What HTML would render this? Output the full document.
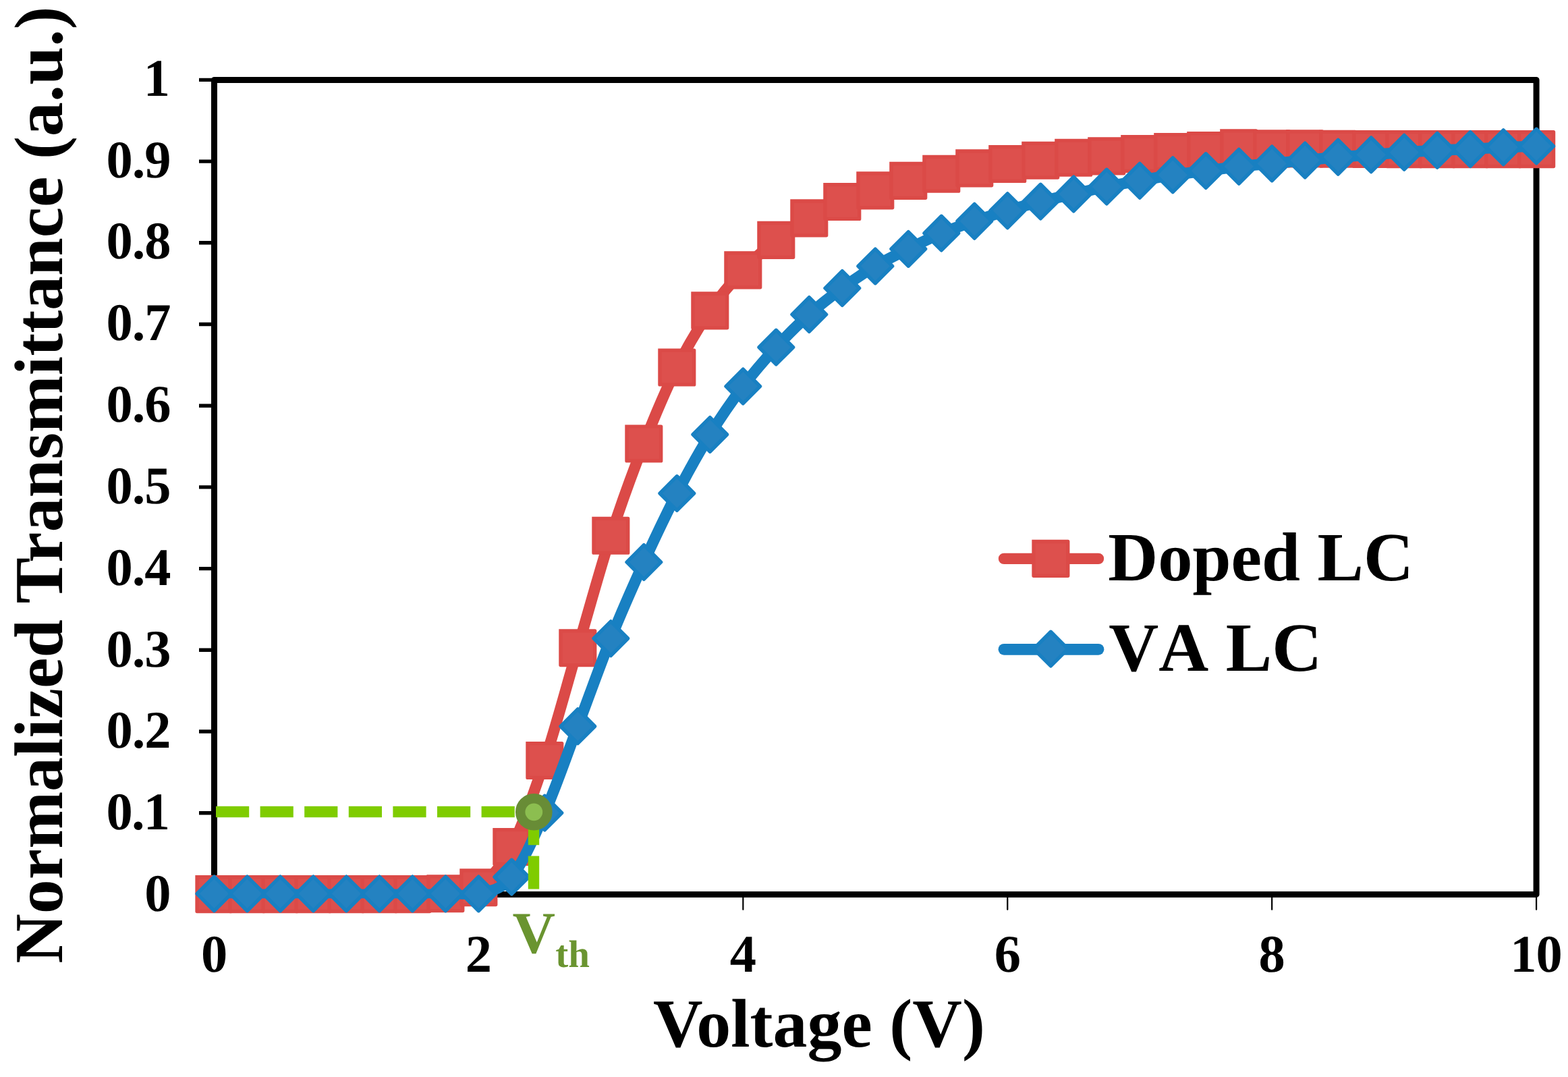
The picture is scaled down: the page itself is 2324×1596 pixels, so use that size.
<!DOCTYPE html>
<html lang="en"><head><meta charset="utf-8"><title>Normalized Transmittance vs Voltage</title>
<style>
html,body{margin:0;padding:0;background:#fff;}
body{width:2324px;height:1596px;overflow:hidden;}
svg{display:block;}
text{font-family:"Liberation Serif","DejaVu Serif",serif;font-weight:bold;text-rendering:geometricPrecision;}
.tk{font-size:78.5px;}
.tt{font-size:102px;}
.nk{font-kerning:none;}
</style></head><body>
<svg width="2324" height="1596" viewBox="0 0 2324 1596">
<rect width="2324" height="1596" fill="#fff"/>
<g stroke="#000" fill="none">
<rect x="317.5" y="118.4" width="1959.6" height="1207" stroke-width="9" stroke-linejoin="round"/>
<path d="M295 1325.4H317.5M295 1204.7H317.5M295 1084H317.5M295 963.3H317.5M295 842.6H317.5M295 721.9H317.5M295 601.2H317.5M295 480.5H317.5M295 359.8H317.5M295 239.1H317.5M295 118.4H317.5" stroke-width="5.4"/>
<path d="M317.5 1325.4V1347.8M709.42 1325.4V1347.8M1101.34 1325.4V1347.8M1493.26 1325.4V1347.8M1885.18 1325.4V1347.8M2277.1 1325.4V1347.8" stroke-width="2.2" stroke-linecap="round"/>
</g>
<path d="M317.4 1325.1C325.57 1325.1 350.06 1325.1 366.39 1325.1C382.73 1325.1 399.06 1325.1 415.39 1325.1C431.72 1325.1 448.05 1325.1 464.38 1325.1C480.72 1325.1 497.05 1325.1 513.38 1325.1C529.71 1325.1 546.04 1325.1 562.38 1325.1C578.71 1325.1 595.04 1325.25 611.37 1325.1C627.7 1324.95 644.03 1325.85 660.37 1324.2C676.7 1322.55 693.03 1326.73 709.36 1315.2C725.69 1303.67 742.02 1286.37 758.36 1255C774.69 1223.63 791.02 1176.13 807.35 1127C823.68 1077.87 840.01 1015.73 856.34 960.2C872.68 904.67 889.01 844.25 905.34 793.8C921.67 743.35 938 699.05 954.33 657.5C970.67 615.95 987 577.35 1003.33 544.5C1019.66 511.65 1035.99 484.42 1052.32 460.4C1068.66 436.38 1084.99 417.82 1101.32 400.4C1117.65 382.98 1133.98 368.73 1150.32 355.9C1166.65 343.07 1182.98 332.88 1199.31 323.4C1215.64 313.92 1231.97 305.83 1248.3 299C1264.64 292.17 1280.97 287.58 1297.3 282.4C1313.63 277.22 1329.96 272 1346.3 267.9C1362.63 263.8 1378.96 260.88 1395.29 257.8C1411.62 254.72 1427.95 251.87 1444.28 249.4C1460.62 246.93 1476.95 244.95 1493.28 243C1509.61 241.05 1525.94 239.23 1542.28 237.7C1558.61 236.17 1574.94 234.85 1591.27 233.8C1607.6 232.75 1623.93 232.35 1640.26 231.4C1656.6 230.45 1672.93 229.17 1689.26 228.1C1705.59 227.03 1721.92 225.85 1738.26 225C1754.59 224.15 1770.92 223.97 1787.25 223C1803.58 222.03 1819.91 219.63 1836.24 219.2C1852.58 218.77 1868.91 220.2 1885.24 220.4C1901.57 220.6 1917.9 220.33 1934.23 220.4C1950.57 220.47 1966.9 220.7 1983.23 220.8C1999.56 220.9 2015.89 220.95 2032.22 221C2048.56 221.05 2064.89 221.08 2081.22 221.1C2097.55 221.12 2113.88 221.1 2130.21 221.1C2146.55 221.1 2162.88 221.1 2179.21 221.1C2195.54 221.1 2211.87 221.1 2228.2 221.1C2244.54 221.1 2269.03 221.1 2277.2 221.1" fill="none" stroke="#DB4A47" stroke-width="16.5" stroke-linecap="round" stroke-linejoin="round"/>
<g fill="#DD504D" stroke="#DB4A47" stroke-width="5.3" stroke-linejoin="round" stroke-linecap="square">
<path d="M292 1299.7h50.8v50.8h-50.8v-50.8"/>
<path d="M341 1299.7h50.8v50.8h-50.8v-50.8"/>
<path d="M389.99 1299.7h50.8v50.8h-50.8v-50.8"/>
<path d="M438.99 1299.7h50.8v50.8h-50.8v-50.8"/>
<path d="M487.98 1299.7h50.8v50.8h-50.8v-50.8"/>
<path d="M536.98 1299.7h50.8v50.8h-50.8v-50.8"/>
<path d="M585.97 1299.7h50.8v50.8h-50.8v-50.8"/>
<path d="M634.97 1298.8h50.8v50.8h-50.8v-50.8"/>
<path d="M683.96 1289.8h50.8v50.8h-50.8v-50.8"/>
<path d="M732.96 1229.6h50.8v50.8h-50.8v-50.8"/>
<path d="M781.95 1101.6h50.8v50.8h-50.8v-50.8"/>
<path d="M830.94 934.8h50.8v50.8h-50.8v-50.8"/>
<path d="M879.94 768.4h50.8v50.8h-50.8v-50.8"/>
<path d="M928.93 632.1h50.8v50.8h-50.8v-50.8"/>
<path d="M977.93 519.1h50.8v50.8h-50.8v-50.8"/>
<path d="M1026.92 435h50.8v50.8h-50.8v-50.8"/>
<path d="M1075.92 375h50.8v50.8h-50.8v-50.8"/>
<path d="M1124.91 330.5h50.8v50.8h-50.8v-50.8"/>
<path d="M1173.91 298h50.8v50.8h-50.8v-50.8"/>
<path d="M1222.9 273.6h50.8v50.8h-50.8v-50.8"/>
<path d="M1271.9 257h50.8v50.8h-50.8v-50.8"/>
<path d="M1320.89 242.5h50.8v50.8h-50.8v-50.8"/>
<path d="M1369.89 232.4h50.8v50.8h-50.8v-50.8"/>
<path d="M1418.88 224h50.8v50.8h-50.8v-50.8"/>
<path d="M1467.88 217.6h50.8v50.8h-50.8v-50.8"/>
<path d="M1516.88 212.3h50.8v50.8h-50.8v-50.8"/>
<path d="M1565.87 208.4h50.8v50.8h-50.8v-50.8"/>
<path d="M1614.86 206h50.8v50.8h-50.8v-50.8"/>
<path d="M1663.86 202.7h50.8v50.8h-50.8v-50.8"/>
<path d="M1712.86 199.6h50.8v50.8h-50.8v-50.8"/>
<path d="M1761.85 197.6h50.8v50.8h-50.8v-50.8"/>
<path d="M1810.84 193.8h50.8v50.8h-50.8v-50.8"/>
<path d="M1859.84 195h50.8v50.8h-50.8v-50.8"/>
<path d="M1908.83 195h50.8v50.8h-50.8v-50.8"/>
<path d="M1957.83 195.4h50.8v50.8h-50.8v-50.8"/>
<path d="M2006.82 195.6h50.8v50.8h-50.8v-50.8"/>
<path d="M2055.82 195.7h50.8v50.8h-50.8v-50.8"/>
<path d="M2104.81 195.7h50.8v50.8h-50.8v-50.8"/>
<path d="M2153.81 195.7h50.8v50.8h-50.8v-50.8"/>
<path d="M2202.8 195.7h50.8v50.8h-50.8v-50.8"/>
<path d="M2251.8 195.7h50.8v50.8h-50.8v-50.8"/>
</g>
<path d="M317.4 1324.4C325.57 1324.4 350.06 1324.4 366.39 1324.4C382.73 1324.4 399.06 1324.4 415.39 1324.4C431.72 1324.4 448.05 1324.4 464.38 1324.4C480.72 1324.4 497.05 1324.4 513.38 1324.4C529.71 1324.4 546.04 1324.4 562.38 1324.4C578.71 1324.4 595.04 1324.4 611.37 1324.4C627.7 1324.4 644.03 1324.4 660.37 1324.4C676.7 1324.4 693.03 1328.53 709.36 1324.4" fill="none" stroke="#1880C2" stroke-width="13.9" stroke-linecap="round" stroke-linejoin="round"/>
<path d="M709.36 1324.4C725.69 1320.27 742.02 1319.57 758.36 1299.6C774.69 1279.63 791.02 1241.82 807.35 1204.6C823.68 1167.38 840.01 1119.37 856.34 1076.3C872.68 1033.23 889.01 986.75 905.34 946.2C921.67 905.65 938 868.85 954.33 833C970.67 797.15 987 762.62 1003.33 731.1C1019.66 699.58 1035.99 670.33 1052.32 643.9C1068.66 617.47 1084.99 594.05 1101.32 572.5C1117.65 550.95 1133.98 532.35 1150.32 514.6C1166.65 496.85 1182.98 480.6 1199.31 466C1215.64 451.4 1231.97 438.93 1248.3 427C1264.64 415.07 1280.97 404.08 1297.3 394.4C1313.63 384.72 1329.96 377.03 1346.3 368.9C1362.63 360.77 1378.96 352.47 1395.29 345.6C1411.62 338.73 1427.95 333.27 1444.28 327.7C1460.62 322.13 1476.95 317.05 1493.28 312.2C1509.61 307.35 1525.94 302.72 1542.28 298.6C1558.61 294.48 1574.94 291.17 1591.27 287.5C1607.6 283.83 1623.93 279.9 1640.26 276.6C1656.6 273.3 1672.93 270.58 1689.26 267.7C1705.59 264.82 1721.92 261.73 1738.26 259.3C1754.59 256.87 1770.92 255.2 1787.25 253.1C1803.58 251 1819.91 248.48 1836.24 246.7C1852.58 244.92 1868.91 243.93 1885.24 242.4C1901.57 240.87 1917.9 239.12 1934.23 237.5C1950.57 235.88 1966.9 234.07 1983.23 232.7C1999.56 231.33 2015.89 230.45 2032.22 229.3C2048.56 228.15 2064.89 226.9 2081.22 225.8C2097.55 224.7 2113.88 223.5 2130.21 222.7C2146.55 221.9 2162.88 221.75 2179.21 221C2195.54 220.25 2211.87 218.93 2228.2 218.2C2244.54 217.47 2269.03 216.87 2277.2 216.6" fill="none" stroke="#1880C2" stroke-width="16.5" stroke-linecap="round" stroke-linejoin="round"/>
<g fill="#2482C1" stroke="#1880C2" stroke-width="5.3" stroke-linejoin="round">
<path d="M317.4 1299L342.8 1324.4L317.4 1349.8L292 1324.4Z"/>
<path d="M366.39 1299L391.79 1324.4L366.39 1349.8L341 1324.4Z"/>
<path d="M415.39 1299L440.79 1324.4L415.39 1349.8L389.99 1324.4Z"/>
<path d="M464.38 1299L489.78 1324.4L464.38 1349.8L438.99 1324.4Z"/>
<path d="M513.38 1299L538.78 1324.4L513.38 1349.8L487.98 1324.4Z"/>
<path d="M562.38 1299L587.77 1324.4L562.38 1349.8L536.98 1324.4Z"/>
<path d="M611.37 1299L636.77 1324.4L611.37 1349.8L585.97 1324.4Z"/>
<path d="M660.37 1299L685.76 1324.4L660.37 1349.8L634.97 1324.4Z"/>
<path d="M709.36 1299L734.76 1324.4L709.36 1349.8L683.96 1324.4Z"/>
<path d="M758.36 1274.2L783.75 1299.6L758.36 1325L732.96 1299.6Z"/>
<path d="M807.35 1179.2L832.75 1204.6L807.35 1230L781.95 1204.6Z"/>
<path d="M856.34 1050.9L881.74 1076.3L856.34 1101.7L830.94 1076.3Z"/>
<path d="M905.34 920.8L930.74 946.2L905.34 971.6L879.94 946.2Z"/>
<path d="M954.33 807.6L979.73 833L954.33 858.4L928.93 833Z"/>
<path d="M1003.33 705.7L1028.73 731.1L1003.33 756.5L977.93 731.1Z"/>
<path d="M1052.32 618.5L1077.72 643.9L1052.32 669.3L1026.92 643.9Z"/>
<path d="M1101.32 547.1L1126.72 572.5L1101.32 597.9L1075.92 572.5Z"/>
<path d="M1150.32 489.2L1175.72 514.6L1150.32 540L1124.91 514.6Z"/>
<path d="M1199.31 440.6L1224.71 466L1199.31 491.4L1173.91 466Z"/>
<path d="M1248.3 401.6L1273.7 427L1248.3 452.4L1222.9 427Z"/>
<path d="M1297.3 369L1322.7 394.4L1297.3 419.8L1271.9 394.4Z"/>
<path d="M1346.3 343.5L1371.7 368.9L1346.3 394.3L1320.89 368.9Z"/>
<path d="M1395.29 320.2L1420.69 345.6L1395.29 371L1369.89 345.6Z"/>
<path d="M1444.28 302.3L1469.68 327.7L1444.28 353.1L1418.88 327.7Z"/>
<path d="M1493.28 286.8L1518.68 312.2L1493.28 337.6L1467.88 312.2Z"/>
<path d="M1542.28 273.2L1567.68 298.6L1542.28 324L1516.88 298.6Z"/>
<path d="M1591.27 262.1L1616.67 287.5L1591.27 312.9L1565.87 287.5Z"/>
<path d="M1640.26 251.2L1665.66 276.6L1640.26 302L1614.86 276.6Z"/>
<path d="M1689.26 242.3L1714.66 267.7L1689.26 293.1L1663.86 267.7Z"/>
<path d="M1738.26 233.9L1763.66 259.3L1738.26 284.7L1712.86 259.3Z"/>
<path d="M1787.25 227.7L1812.65 253.1L1787.25 278.5L1761.85 253.1Z"/>
<path d="M1836.24 221.3L1861.64 246.7L1836.24 272.1L1810.84 246.7Z"/>
<path d="M1885.24 217L1910.64 242.4L1885.24 267.8L1859.84 242.4Z"/>
<path d="M1934.23 212.1L1959.63 237.5L1934.23 262.9L1908.83 237.5Z"/>
<path d="M1983.23 207.3L2008.63 232.7L1983.23 258.1L1957.83 232.7Z"/>
<path d="M2032.22 203.9L2057.62 229.3L2032.22 254.7L2006.82 229.3Z"/>
<path d="M2081.22 200.4L2106.62 225.8L2081.22 251.2L2055.82 225.8Z"/>
<path d="M2130.21 197.3L2155.61 222.7L2130.21 248.1L2104.81 222.7Z"/>
<path d="M2179.21 195.6L2204.61 221L2179.21 246.4L2153.81 221Z"/>
<path d="M2228.2 192.8L2253.61 218.2L2228.2 243.6L2202.8 218.2Z"/>
<path d="M2277.2 191.2L2302.6 216.6L2277.2 242L2251.8 216.6Z"/>
</g>
<g stroke="#7FCC00" stroke-width="16.4" fill="none" stroke-dasharray="49.2 16.4">
<path d="M320 1203H791"/>
<path d="M791 1203V1317.6"/>
</g>
<circle cx="791.3" cy="1203.3" r="20.1" fill="#8CBE50" stroke="#688C36" stroke-width="14.4"/>
<path d="M1488 827.9H1628" stroke="#DB4A47" stroke-width="16.4" stroke-linecap="round"/>
<g fill="#DD504D" stroke="#DB4A47" stroke-width="5.3" stroke-linejoin="round" stroke-linecap="square"><path d="M1532 802.5h50.8v50.8h-50.8v-50.8"/></g>
<path d="M1488 962.3H1628" stroke="#1880C2" stroke-width="16.8" stroke-linecap="round"/>
<path d="M1557.4 936.2L1582.8 961.6L1557.4 987L1532 961.6Z" fill="#2482C1" stroke="#1880C2" stroke-width="5.3" stroke-linejoin="round"/>
<text class="tt" style="font-size:102.5px" x="1642.2" y="860">Doped LC</text>
<text class="tt nk" style="font-size:102.5px" x="1643.2" y="994.4">VA LC</text>
<g class="tk" text-anchor="end" letter-spacing="-1">
<text x="252.5" y="1350">0</text>
<text letter-spacing="-1.8" x="250.3" y="1229.17">0.1</text>
<text x="252.5" y="1108.34">0.2</text>
<text x="252.5" y="987.51">0.3</text>
<text x="252.5" y="866.68">0.4</text>
<text x="252.5" y="745.85">0.5</text>
<text x="252.5" y="625.02">0.6</text>
<text x="252.5" y="504.19">0.7</text>
<text x="252.5" y="383.36">0.8</text>
<text x="252.5" y="262.53">0.9</text>
<text x="251.1" y="141.7">1</text>
</g>
<g class="tk" text-anchor="middle">
<text x="317.5" y="1439.8">0</text>
<text x="709.42" y="1439.8">2</text>
<text x="1101.34" y="1439.8">4</text>
<text x="1493.26" y="1439.8">6</text>
<text x="1885.18" y="1439.8">8</text>
<text x="2277.1" y="1439.8" letter-spacing="-1" dx="-0.5">10</text>
</g>
<text x="759.6" y="1412.4" fill="#6A9430" font-size="88">V<tspan font-size="57" dy="20.4">th</tspan></text>
<text class="tt" x="967.9" y="1550.6">Voltage (V)</text>
<text class="tt" transform="translate(92 1427.8) rotate(-90)">Normalized Transmittance (a.u.)</text>
</svg>
</body></html>
